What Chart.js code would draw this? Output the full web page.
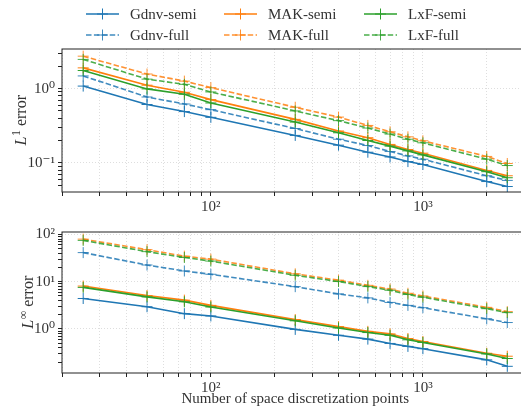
<!DOCTYPE html>
<html>
<head>
<meta charset="utf-8">
<script src="https://cdn.jsdelivr.net/npm/chart.js@4"></script>
<style>
  html, body { margin: 0; padding: 0; background: #fff; overflow: hidden; width: 521px; height: 408px; }
  .panel { position: absolute; left: 0; width: 535px; }
  #topPanel { top: 0; height: 220px; }
  #bottomPanel { top: 220px; height: 188px; }
</style>
</head>
<body>
<div class="panel" id="topPanel"><canvas id="chartL1"></canvas></div>
<div class="panel" id="bottomPanel"><canvas id="chartLinf"></canvas></div>
<script>
// number of space discretization points
const nPoints = [25, 50, 75, 100, 250, 400, 550, 700, 850, 1000, 2000, 2500];

// L1 error
const gdnvSemiL1 = [1.08, 0.61, 0.49, 0.41, 0.234, 0.173, 0.139, 0.120, 0.104, 0.095, 0.056, 0.048];
const gdnvFullL1 = [1.48, 0.77, 0.62, 0.52, 0.29, 0.208, 0.171, 0.142, 0.124, 0.112, 0.067, 0.058];
const makSemiL1  = [1.90, 1.11, 0.89, 0.71, 0.385, 0.268, 0.218, 0.177, 0.151, 0.135, 0.079, 0.067];
const makFullL1  = [2.73, 1.57, 1.26, 1.03, 0.56, 0.413, 0.319, 0.262, 0.224, 0.198, 0.122, 0.098];
const lxfSemiL1  = [1.75, 0.99, 0.84, 0.64, 0.354, 0.254, 0.200, 0.168, 0.145, 0.128, 0.076, 0.063];
const lxfFullL1  = [2.47, 1.34, 1.14, 0.90, 0.50, 0.37, 0.294, 0.244, 0.208, 0.186, 0.112, 0.092];

// Linf error
const gdnvSemiLinf = [4.42, 2.96, 2.11, 1.89, 0.98, 0.736, 0.61, 0.494, 0.428, 0.383, 0.222, 0.162];
const gdnvFullLinf = [41.4, 22.6, 16.9, 14.4, 7.87, 5.52, 4.55, 3.65, 3.16, 2.82, 1.64, 1.37];
const makSemiLinf  = [8.1, 5.1, 4.08, 3.16, 1.58, 1.12, 0.89, 0.787, 0.628, 0.544, 0.306, 0.265];
const makFullLinf  = [79.8, 47.7, 34.8, 30.1, 14.7, 10.8, 8.4, 7.0, 5.7, 5.0, 2.87, 2.33];
const lxfSemiLinf  = [7.6, 4.78, 3.76, 2.92, 1.49, 1.05, 0.84, 0.736, 0.59, 0.519, 0.296, 0.237];
const lxfFullLinf  = [75, 43.4, 32.6, 27.4, 13.7, 10.1, 7.9, 6.6, 5.36, 4.71, 2.69, 2.22];

const seriesNames = ['Gdnv-semi', 'Gdnv-full', 'MAK-semi', 'MAK-full', 'LxF-semi', 'LxF-full'];

// tick labels
const xTickValues = [100, 1000];
const xTickLabels = ['10²', '10³'];
const l1TickValues = [0.1, 1];
const l1TickLabels = ['10⁻¹', '10⁰'];
const linfTickValues = [1, 10, 100];
const linfTickLabels = ['10⁰', '10¹', '10²'];

const blue = '#1f77b4', orange = '#ff7f0e', green = '#2ca02c';
const seriesColors = [blue, 'rgba(31,119,180,0.85)', orange, 'rgba(255,127,14,0.85)', green, 'rgba(44,160,44,0.85)'];
const textColor = '#333';
const serif = '"Liberation Serif", "DejaVu Serif", serif';

const X_MIN = Math.pow(10, 1.298), X_MAX = Math.pow(10, 3.498);

function logTicks(min, max) {
  const t = [];
  for (let e = Math.floor(Math.log10(min)); e <= Math.ceil(Math.log10(max)); e++) {
    for (let k = 1; k < 10; k++) {
      const v = k * Math.pow(10, e);
      if (v >= min && v <= max) t.push({ value: v, major: k === 1 });
    }
  }
  return t;
}

function labelFor(values, labels) {
  return function (value) {
    for (let i = 0; i < values.length; i++) {
      if (Math.abs(value - values[i]) / values[i] < 1e-6) return labels[i];
    }
    return '';
  };
}

function buildDatasets(arrays) {
  return arrays.map((arr, i) => ({
    label: seriesNames[i],
    data: nPoints.map((n, j) => ({ x: n, y: arr[j] })),
    borderColor: seriesColors[i],
    borderWidth: 1.6,
    borderDash: i % 2 === 1 ? [5.5, 2.4] : [],
    pointStyle: 'cross',
    pointRadius: 5.5,
    pointBorderWidth: 1,
    pointBorderColor: seriesColors[i],
    pointBackgroundColor: seriesColors[i],
    fill: false,
    tension: 0,
    order: 5 - i,
  }));
}

// box around the plot area
const framePlugin = {
  id: 'frame',
  afterDraw(chart) {
    const { ctx, chartArea: a } = chart;
    ctx.save();
    ctx.strokeStyle = '#222';
    ctx.lineWidth = 1;
    ctx.strokeRect(a.left, a.top, a.right - a.left, a.bottom - a.top);
    ctx.restore();
  }
};

// y title with italic L and a superscript
function yTitlePlugin(sup, cx) {
  return {
    id: 'ytitle',
    afterDraw(chart) {
      const { ctx, chartArea: a } = chart;
      const cy = (a.top + a.bottom) / 2;
      const fL = 'italic 16px ' + serif, fS = '12px ' + serif, fR = '16px ' + serif;
      ctx.save();
      ctx.font = fL; const wL = ctx.measureText('L').width;
      ctx.font = fS; const wS = ctx.measureText(sup).width;
      ctx.font = fR; const wR = ctx.measureText(' error').width;
      ctx.translate(cx, cy);
      ctx.rotate(-Math.PI / 2);
      ctx.fillStyle = textColor;
      ctx.textBaseline = 'alphabetic';
      let x = -(wL + wS + wR) / 2;
      ctx.font = fL; ctx.fillText('L', x, 5); x += wL + 0.5;
      ctx.font = fS; ctx.fillText(sup, x, -1.5); x += wS;
      ctx.font = fR; ctx.fillText(' error', x, 5);
      ctx.restore();
    }
  };
}

// legend in three columns, two rows
const legendPlugin = {
  id: 'gridLegend',
  afterDraw(chart) {
    const { ctx } = chart;
    const colX = [86, 224, 364], rowY = [14, 35];
    ctx.save();
    chart.data.datasets.forEach((ds, i) => {
      const x0 = colX[Math.floor(i / 2)], y = rowY[i % 2];
      ctx.strokeStyle = ds.borderColor;
      ctx.lineWidth = 1.6;
      ctx.setLineDash(ds.borderDash);
      ctx.beginPath(); ctx.moveTo(x0, y); ctx.lineTo(x0 + 33, y); ctx.stroke();
      ctx.setLineDash([]);
      ctx.lineWidth = 1;
      ctx.beginPath();
      ctx.moveTo(x0 + 16.5, y - 5.5); ctx.lineTo(x0 + 16.5, y + 5.5);
      ctx.moveTo(x0 + 11, y); ctx.lineTo(x0 + 22, y);
      ctx.stroke();
      ctx.fillStyle = textColor;
      ctx.font = '15px ' + serif;
      ctx.textBaseline = 'middle';
      ctx.fillText(ds.label, x0 + 44, y + 1);
    });
    ctx.restore();
  }
};

function makeChart(id, arrays, yMin, yMax, yVals, yLabels, cfg) {
  const xScale = {
    type: 'logarithmic',
    min: X_MIN, max: X_MAX,
    afterBuildTicks: s => { s.ticks = logTicks(X_MIN, X_MAX); },
    afterFit: s => { s.height = cfg.xHeight; },
    ticks: {
      callback: labelFor(xTickValues, xTickLabels),
      autoSkip: false, maxRotation: 0, padding: 2,
      color: textColor, font: { family: serif, size: 15 }
    },
    grid: { color: '#d6d6d6', lineWidth: 0.8, tickColor: '#222', tickLength: 4, tickWidth: 1 },
    border: { display: false, dash: [1, 2] },
    title: cfg.xTitle ? {
      display: true, text: cfg.xTitle, color: textColor,
      font: { family: serif, size: 15 }, padding: { top: 0, bottom: 0 }
    } : { display: false }
  };
  const yScale = {
    type: 'logarithmic',
    min: yMin, max: yMax,
    afterBuildTicks: s => { s.ticks = logTicks(yMin, yMax); },
    afterFit: s => { s.width = 62; },
    ticks: {
      callback: labelFor(yVals, yLabels),
      autoSkip: false, padding: 3,
      color: textColor, font: { family: serif, size: 15 }
    },
    grid: {
      color: c => (c.tick && c.tick.major) ? '#d6d6d6' : 'rgba(0,0,0,0)',
      lineWidth: 0.8, tickColor: '#222', tickLength: 4, tickWidth: 1
    },
    border: { display: false, dash: [1, 2] }
  };
  const plugins = [framePlugin, yTitlePlugin(cfg.sup, cfg.titleX)];
  if (cfg.legend) plugins.push(legendPlugin);
  return new Chart(document.getElementById(id), {
    type: 'line',
    data: { datasets: buildDatasets(arrays) },
    options: {
      responsive: true,
      maintainAspectRatio: false,
      animation: false,
      layout: { padding: { top: cfg.padTop, right: 4, left: 0, bottom: 0 } },
      plugins: { legend: { display: false }, tooltip: { enabled: false } },
      scales: { x: xScale, y: yScale }
    },
    plugins: plugins
  });
}

makeChart('chartL1',
  [gdnvSemiL1, gdnvFullL1, makSemiL1, makFullL1, lxfSemiL1, lxfFullL1],
  0.0405, 3.41, l1TickValues, l1TickLabels,
  { padTop: 49, xHeight: 28, sup: '1', titleX: 21, legend: true });

makeChart('chartLinf',
  [gdnvSemiLinf, gdnvFullLinf, makSemiLinf, makFullLinf, lxfSemiLinf, lxfFullLinf],
  0.117, 113, linfTickValues, linfTickLabels,
  { padTop: 9, xHeight: 35, sup: '∞', titleX: 28, xTitle: 'Number of space discretization points' });
</script>
</body>
</html>
